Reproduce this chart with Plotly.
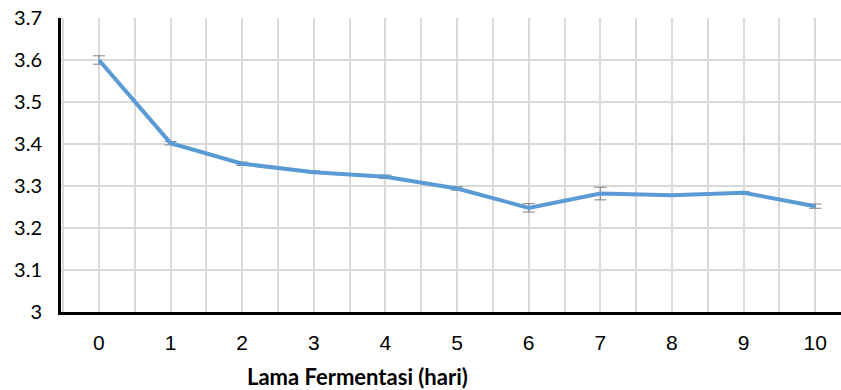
import plotly.graph_objects as go

days = [0, 1, 2, 3, 4, 5, 6, 7, 8, 9, 10]
ph = [3.600, 3.402, 3.353, 3.333, 3.322, 3.294, 3.248, 3.282, 3.278, 3.284, 3.252]
err = [0.010, 0.004, 0.004, 0.003, 0.004, 0.004, 0.010, 0.015, 0.000, 0.003, 0.005]
x_title = "Lama Fermentasi (hari)"

fig = go.Figure()
fig.add_trace(go.Scatter(
    x=days, y=ph, mode="lines",
    line=dict(color="#5B9BD5", width=4),
    error_y=dict(type="data", array=err, visible=True, color="#7F7F7F", thickness=1, width=6),
    showlegend=False,
))

fig.update_layout(
    width=841, height=390,
    margin=dict(l=61, r=0, t=18, b=78),
    paper_bgcolor="white", plot_bgcolor="white",
    xaxis=dict(
        range=[-0.53, 10.36], tickmode="linear", tick0=0, dtick=1,
        showgrid=True, gridcolor="#D9D9D9", gridwidth=1.5,
        minor=dict(tick0=0.5, dtick=1, showgrid=True, gridcolor="#D9D9D9", gridwidth=1.5),
        showline=True, linecolor="black", linewidth=3,
        zeroline=False, ticks="", ticklabelstandoff=10,
        tickfont=dict(family="Liberation Sans", size=21, color="black"),
    ),
    yaxis=dict(
        range=[3, 3.7], tickmode="linear", tick0=3, dtick=0.1,
        showgrid=True, gridcolor="#D9D9D9", gridwidth=1.5,
        showline=True, linecolor="black", linewidth=3,
        zeroline=False, ticks="", ticklabelstandoff=12,
        tickfont=dict(family="Lato", size=20, color="black"),
    ),
    annotations=[dict(
        text="<b>" + x_title + "</b>",
        x=(357.5 - 61) / 780, y=-(376 - 312) / 294,
        xref="paper", yref="paper", xanchor="center", yanchor="middle",
        showarrow=False, font=dict(family="Lato", size=22, color="black"),
    )],
)

fig.write_html("out.html")
